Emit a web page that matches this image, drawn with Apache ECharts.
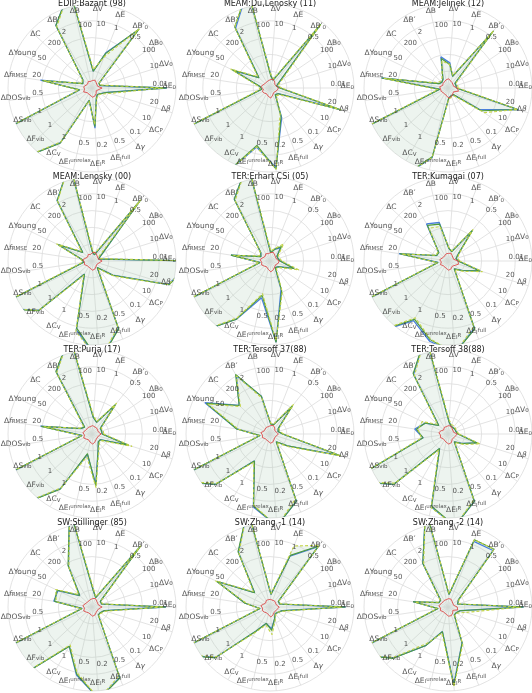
<!DOCTYPE html>
<html>
<head>
<meta charset="utf-8">
<script src="https://cdn.jsdelivr.net/npm/echarts@6/dist/echarts.min.js"></script>
<style>
html, body { margin: 0; padding: 0; background: #fff; }
#chart { width: 532px; height: 693px; }
</style>
</head>
<body>
<div id="chart"></div>
<script>
// axes go counter-clockwise starting at 3 o'clock
const axisNames = [
    'ΔE{s|0}', 'ΔV{s|0}', 'ΔB{s|0}', 'ΔB′{s|0}', 'ΔE', 'ΔV', 'ΔB', 'ΔB′', 'ΔC', 'ΔYoung',
    'Δ{i|f}{s|RMSE}', 'ΔDOS{s|vib}', 'ΔS{s|vib}', 'ΔF{s|vib}', 'ΔC{s|V}',
    'ΔE{s|I}{u|unrelax}', 'ΔE{s|I}{u|R}', 'ΔE{s|I}{u|full}', 'Δ{i|γ}', 'ΔC{s|P}', 'Δ{i|β}'
];
const tickLabels = ['0.01', '10', '100', '0.5', '1', '10', '100', '2', '200', '50',
    '20', '0.5', '1', '1', '1', '0.5', '0.2', '0.5', '0.1', '10', '20'];

const titles = [
    'EDIP:Bazant (98)', 'MEAM:Du,Lenosky (11)', 'MEAM:Jelinek (12)',
    'MEAM:Lenosky (00)', 'TER:Erhart CSi (05)', 'TER:Kumagai (07)',
    'TER:Purja (17)', 'TER:Tersoff 37(88)', 'TER:Tersoff 38(88)',
    'SW:Stillinger (85)', 'SW:Zhang -1 (14)', 'SW:Zhang -2 (14)'
];

// radial positions, 1 = outer circle (values above 1 are clipped)
const blueVals = [
    [0.89,0.10,0.10,0.88,0.45,0.20,1.20,0.86,0.15,0.12,0.62,0.15,1.30,1.30,0.75,0.15,0.48,0.14,0.10,0.12,0.18],
    [0.12,0.08,0.08,0.93,0.10,0.15,1.20,0.82,0.18,0.48,0.12,0.10,1.30,1.30,1.30,0.72,0.95,0.38,0.10,0.12,0.85],
    [0.10,0.10,0.10,0.85,0.15,0.30,0.38,0.12,0.10,0.12,0.80,0.10,1.30,1.30,1.30,0.85,0.12,0.10,0.10,0.45,0.88],
    [1.20,0.08,0.08,0.91,0.08,0.10,1.20,0.83,0.15,0.44,0.12,0.10,1.30,0.86,0.18,0.84,1.20,0.86,0.10,0.30,0.95],
    [0.12,0.10,0.10,0.20,0.15,0.10,1.20,0.85,0.15,0.12,0.47,0.12,1.30,1.30,0.80,0.45,0.97,0.36,0.10,0.12,0.30],
    [0.12,0.10,0.15,0.46,0.12,0.15,0.47,0.51,0.15,0.15,0.59,0.12,1.30,1.30,0.82,0.98,1.10,0.86,0.12,0.20,0.40],
    [0.12,0.12,0.12,0.44,0.15,0.20,1.20,0.85,0.12,0.15,0.62,0.12,1.30,1.30,0.75,0.25,0.60,0.20,0.12,0.12,0.45],
    [0.15,0.10,0.12,0.42,0.12,0.12,0.46,0.80,0.50,0.86,0.40,0.12,1.30,0.88,0.37,0.89,1.10,0.86,0.12,0.25,0.86],
    [0.12,0.10,0.10,0.10,0.10,0.15,1.20,0.82,0.15,0.30,0.40,0.30,1.30,0.88,0.20,0.89,1.10,0.86,0.12,0.20,0.36],
    [0.88,0.12,0.12,0.91,0.12,0.20,1.20,0.56,0.20,0.45,0.46,0.12,1.30,1.30,0.54,0.83,1.10,0.90,0.12,0.12,0.15],
    [0.90,0.12,0.12,0.92,0.65,0.15,1.20,0.75,0.25,0.70,0.30,0.12,1.30,0.88,0.33,0.20,0.26,0.15,0.10,0.10,0.15],
    [0.90,0.12,0.15,0.86,0.84,0.15,1.20,0.60,0.12,0.12,0.42,0.12,1.30,0.89,0.53,0.30,0.92,0.46,0.12,0.12,0.15]
];
const greenVals = [
    [0.89,0.10,0.10,0.90,0.44,0.20,1.20,0.86,0.15,0.12,0.60,0.15,1.30,1.30,0.76,0.15,0.46,0.14,0.10,0.12,0.18],
    [0.12,0.08,0.08,0.97,0.10,0.14,1.20,0.84,0.18,0.50,0.12,0.10,1.30,1.30,1.30,0.70,0.97,0.36,0.10,0.12,0.89],
    [0.10,0.10,0.10,0.87,0.15,0.28,0.36,0.12,0.10,0.12,0.80,0.10,1.30,1.30,1.30,0.84,0.12,0.10,0.10,0.48,0.87],
    [1.20,0.08,0.08,0.93,0.08,0.10,1.20,0.83,0.15,0.45,0.12,0.10,1.30,0.87,0.18,0.82,1.20,0.87,0.10,0.30,0.96],
    [0.12,0.10,0.10,0.22,0.15,0.10,1.20,0.85,0.15,0.12,0.47,0.12,1.30,1.30,0.80,0.42,0.97,0.38,0.10,0.12,0.30],
    [0.12,0.10,0.15,0.47,0.12,0.15,0.45,0.49,0.15,0.15,0.58,0.12,1.30,1.30,0.80,0.96,1.10,0.87,0.12,0.20,0.40],
    [0.12,0.12,0.12,0.45,0.15,0.20,1.20,0.86,0.12,0.15,0.61,0.12,1.30,1.30,0.76,0.24,0.62,0.20,0.12,0.12,0.46],
    [0.15,0.10,0.12,0.43,0.12,0.12,0.46,0.82,0.50,0.84,0.40,0.12,1.30,0.88,0.37,0.88,1.10,0.86,0.12,0.25,0.88],
    [0.12,0.10,0.10,0.10,0.10,0.15,1.20,0.83,0.15,0.30,0.38,0.30,1.30,0.88,0.20,0.88,1.10,0.86,0.12,0.20,0.36],
    [0.88,0.12,0.12,0.93,0.12,0.20,1.20,0.57,0.20,0.46,0.45,0.12,1.30,1.30,0.54,0.82,1.10,0.91,0.12,0.12,0.15],
    [0.90,0.12,0.12,0.93,0.66,0.15,1.20,0.76,0.25,0.70,0.30,0.12,1.30,0.89,0.33,0.20,0.28,0.15,0.10,0.10,0.15],
    [0.90,0.12,0.15,0.88,0.86,0.15,1.20,0.60,0.12,0.12,0.42,0.12,1.30,0.90,0.53,0.30,0.94,0.46,0.12,0.12,0.15]
];
const yellowVals = [
    [0.85,0.12,0.10,0.90,0.40,0.22,1.20,0.84,0.16,0.13,0.58,0.16,1.30,1.30,0.74,0.16,0.44,0.15,0.11,0.13,0.22],
    [0.14,0.10,0.09,0.97,0.12,0.16,1.20,0.84,0.20,0.52,0.14,0.12,1.30,1.30,1.30,0.72,0.97,0.33,0.12,0.14,0.88],
    [0.12,0.12,0.12,0.87,0.16,0.28,0.33,0.14,0.12,0.14,0.77,0.12,1.30,1.30,1.30,0.85,0.13,0.12,0.12,0.52,0.87],
    [1.20,0.10,0.10,0.93,0.10,0.12,1.20,0.82,0.17,0.47,0.13,0.12,1.30,0.86,0.20,0.86,1.20,0.84,0.12,0.32,0.95],
    [0.14,0.12,0.12,0.26,0.16,0.12,1.20,0.83,0.16,0.14,0.44,0.13,1.30,1.30,0.78,0.40,0.95,0.40,0.12,0.14,0.36],
    [0.14,0.12,0.16,0.48,0.13,0.16,0.42,0.45,0.16,0.16,0.56,0.13,1.30,1.30,0.78,0.95,1.10,0.84,0.13,0.22,0.43],
    [0.14,0.14,0.13,0.47,0.16,0.22,1.20,0.84,0.14,0.16,0.58,0.13,1.30,1.30,0.74,0.28,0.64,0.22,0.14,0.14,0.50],
    [0.16,0.12,0.13,0.45,0.13,0.13,0.44,0.80,0.48,0.82,0.38,0.13,1.30,0.86,0.39,0.87,1.10,0.83,0.13,0.27,0.88],
    [0.13,0.11,0.11,0.12,0.12,0.17,1.20,0.80,0.17,0.34,0.36,0.32,1.30,0.86,0.22,0.90,1.10,0.84,0.13,0.22,0.40],
    [0.85,0.13,0.13,0.93,0.13,0.22,1.20,0.55,0.22,0.48,0.43,0.13,1.30,1.30,0.52,0.80,1.10,0.88,0.13,0.13,0.17],
    [0.86,0.13,0.13,0.94,0.78,0.16,1.20,0.74,0.27,0.72,0.28,0.13,1.30,0.87,0.35,0.22,0.33,0.17,0.11,0.11,0.17],
    [0.87,0.13,0.16,0.88,0.86,0.16,1.20,0.58,0.13,0.13,0.40,0.13,1.30,0.88,0.50,0.32,0.95,0.48,0.13,0.13,0.22]
];
const redVals = [
    [0.12,0.07,0.06,0.08,0.10,0.09,0.08,0.09,0.07,0.08,0.10,0.09,0.11,0.08,0.07,0.09,0.11,0.10,0.08,0.06,0.07],
    [0.10,0.08,0.07,0.09,0.11,0.10,0.09,0.08,0.08,0.09,0.11,0.08,0.10,0.09,0.08,0.10,0.12,0.09,0.07,0.07,0.09],
    [0.11,0.07,0.07,0.08,0.09,0.11,0.10,0.09,0.08,0.07,0.10,0.09,0.09,0.08,0.08,0.09,0.12,0.11,0.09,0.08,0.13],
    [0.12,0.08,0.07,0.09,0.11,0.10,0.08,0.09,0.07,0.08,0.11,0.09,0.10,0.08,0.07,0.09,0.11,0.10,0.09,0.07,0.08],
    [0.11,0.08,0.07,0.09,0.11,0.10,0.09,0.10,0.08,0.09,0.12,0.10,0.11,0.09,0.08,0.10,0.13,0.11,0.09,0.08,0.10],
    [0.12,0.07,0.07,0.08,0.10,0.09,0.09,0.08,0.07,0.08,0.10,0.08,0.10,0.08,0.07,0.09,0.11,0.10,0.08,0.08,0.13],
    [0.11,0.08,0.07,0.09,0.10,0.10,0.09,0.09,0.08,0.09,0.11,0.09,0.11,0.09,0.08,0.10,0.12,0.10,0.08,0.07,0.08],
    [0.10,0.08,0.07,0.09,0.11,0.10,0.09,0.09,0.08,0.08,0.11,0.09,0.10,0.08,0.07,0.09,0.11,0.10,0.09,0.07,0.08],
    [0.11,0.07,0.07,0.08,0.10,0.10,0.09,0.09,0.07,0.09,0.11,0.09,0.10,0.08,0.08,0.10,0.12,0.11,0.08,0.07,0.09],
    [0.12,0.08,0.07,0.09,0.11,0.10,0.09,0.08,0.08,0.09,0.11,0.09,0.11,0.09,0.08,0.09,0.11,0.10,0.08,0.07,0.08],
    [0.11,0.08,0.08,0.09,0.10,0.09,0.09,0.09,0.07,0.08,0.11,0.09,0.10,0.09,0.08,0.09,0.12,0.10,0.08,0.07,0.09],
    [0.11,0.07,0.07,0.08,0.10,0.10,0.09,0.09,0.08,0.09,0.11,0.09,0.10,0.08,0.08,0.09,0.11,0.11,0.09,0.07,0.12]
];

const colCenters = [92, 270, 448];
const rowCenters = [88, 261, 434, 607];
const radius = 84;
const nAxes = axisNames.length;

// closed ring of [r, angleIndex] points
function ring(vals) {
    const pts = vals.map((v, i) => [v, i]);
    pts.push([vals[0], nAxes]);
    return pts;
}

const polar = [], angleAxis = [], radiusAxis = [], title = [], series = [];
const gridColor = '#dcdcdc';
const font = 'DejaVu Sans';
const textColor = '#2b2b2b';

titles.forEach((name, k) => {
    const cx = colCenters[k % 3];
    const cy = rowCenters[Math.floor(k / 3)];
    polar.push({ center: [cx, cy], radius: radius });
    angleAxis.push({
        polarIndex: k, type: 'value', min: 0, max: nAxes, interval: 1,
        startAngle: 0, clockwise: false,
        axisLine: { show: false }, axisTick: { show: false }, axisLabel: { show: false },
        splitLine: { lineStyle: { color: gridColor, width: 0.8 } }
    });
    radiusAxis.push({
        polarIndex: k, min: 0, max: 1, interval: 0.2,
        axisLine: { show: false }, axisTick: { show: false }, axisLabel: { show: false },
        splitLine: { lineStyle: { color: gridColor, width: 0.8 } }
    });
    title.push({
        text: name, left: cx, top: cy - 88, textAlign: 'center', padding: 0,
        textStyle: { fontSize: 8, fontWeight: 'normal', color: '#222', fontFamily: font }
    });

    const envelope = blueVals[k].map((v, i) => Math.max(v, greenVals[k][i], yellowVals[k][i]));
    const base = { type: 'line', coordinateSystem: 'polar', polarIndex: k, symbol: 'none', silent: true, clip: true };

    series.push(Object.assign({}, base, {
        data: ring(envelope), z: 1,
        lineStyle: { width: 0 },
        areaStyle: { color: 'rgba(175,205,182,0.32)', origin: 'start' }
    }));
    series.push(Object.assign({}, base, {
        data: ring(blueVals[k]), z: 3,
        lineStyle: { color: '#4a7fdc', width: 1.3 }
    }));
    series.push(Object.assign({}, base, {
        data: ring(greenVals[k]), z: 4,
        lineStyle: { color: '#4e9a3e', width: 1.1 }
    }));
    series.push(Object.assign({}, base, {
        data: ring(yellowVals[k]), z: 5,
        lineStyle: { color: '#c3d447', width: 1.1, type: [3, 2] }
    }));
    series.push(Object.assign({}, base, {
        data: ring(redVals[k]), z: 6,
        lineStyle: { color: '#dd4b4b', width: 0.9 }
    }));
    // tick labels on each spoke, anchored at their lower-left corner
    series.push({
        type: 'scatter', coordinateSystem: 'polar', polarIndex: k, silent: true, clip: false,
        symbolSize: 1, itemStyle: { color: 'transparent' }, z: 7,
        data: tickLabels.map((t, i) => [0.72, i]),
        label: {
            show: true, position: 'inside', align: 'left', verticalAlign: 'bottom',
            color: textColor, fontSize: 7, fontFamily: font,
            formatter: p => tickLabels[p.dataIndex]
        }
    });
    // axis names
    series.push({
        type: 'scatter', coordinateSystem: 'polar', polarIndex: k, silent: true, clip: false,
        symbolSize: 1, itemStyle: { color: 'transparent' }, z: 8,
        data: axisNames.map((t, i) => [0.92, i]),
        label: {
            show: true, position: 'inside', offset: [0, -1.5], color: textColor, fontSize: 7.5, fontFamily: font,
            formatter: p => axisNames[p.dataIndex],
            rich: {
                s: { fontSize: 5.5, verticalAlign: 'bottom', color: textColor, fontFamily: font },
                u: { fontSize: 5.5, verticalAlign: 'top', color: textColor, fontFamily: font },
                i: { fontSize: 7.5, fontStyle: 'italic', color: textColor, fontFamily: font }
            }
        }
    });
});

const chart = echarts.init(document.getElementById('chart'), null, { renderer: 'canvas' });
chart.setOption({
    animation: false,
    backgroundColor: '#fff',
    title: title,
    polar: polar,
    angleAxis: angleAxis,
    radiusAxis: radiusAxis,
    series: series
});
</script>
</body>
</html>
